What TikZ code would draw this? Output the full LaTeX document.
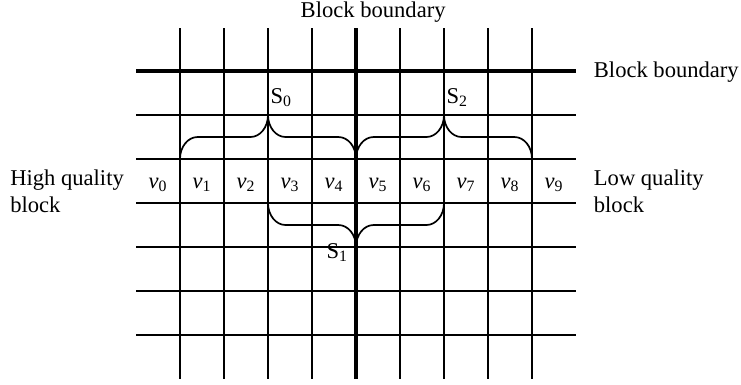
\documentclass[tikz,border=0pt]{standalone}
\usepackage{fontspec}
\setmainfont{Liberation Serif}
\usetikzlibrary{positioning}

\begin{document}
\begin{tikzpicture}[
        font=\fontsize{14.6pt}{17pt}\selectfont,
        gridline/.style={line width=1.1pt},
        boundline/.style={line width=2.3pt},
        brace/.style={line width=1.1pt},
        lbl/.style={inner sep=0pt}
    ]
        \useasboundingbox (-3.091,1.614) rectangle (13.75,-7.136);

        % grid
        \foreach \i in {1,...,9} {
            \draw[gridline] (\i,0.977) -- (\i,-7);
        }
        \foreach \j in {1,...,6} {
            \draw[gridline] (0,-\j) -- (10,-\j);
        }
        \draw[boundline] (0,0) -- (10,0);
        \draw[boundline] (5,0.977) -- (5,-7);

        % pixels
        \foreach \i in {0,...,9} {
            \node[lbl, anchor=base] (v\i) at (\i+0.5,-2.66) {\textit{v}\textsubscript{\i}};
        }

        % braces
        \draw[brace] (1,-2) .. controls (1,-1.72) and (1.18,-1.5) .. (1.4,-1.5) -- (2.6,-1.5)
            .. controls (2.82,-1.5) and (3,-1.28) .. (3,-1)
            .. controls (3,-1.28) and (3.18,-1.5) .. (3.4,-1.5) -- (4.6,-1.5)
            .. controls (4.82,-1.5) and (5,-1.72) .. (5,-2);
        \draw[brace] (5,-2) .. controls (5,-1.72) and (5.18,-1.5) .. (5.4,-1.5) -- (6.6,-1.5)
            .. controls (6.82,-1.5) and (7,-1.28) .. (7,-1)
            .. controls (7,-1.28) and (7.18,-1.5) .. (7.4,-1.5) -- (8.6,-1.5)
            .. controls (8.82,-1.5) and (9,-1.72) .. (9,-2);
        \draw[brace] (3,-3) .. controls (3,-3.28) and (3.18,-3.5) .. (3.4,-3.5) -- (4.6,-3.5)
            .. controls (4.82,-3.5) and (5,-3.72) .. (5,-4)
            .. controls (5,-3.72) and (5.18,-3.5) .. (5.4,-3.5) -- (6.6,-3.5)
            .. controls (6.82,-3.5) and (7,-3.28) .. (7,-3);

        \node[lbl, anchor=base west] (s0) at (3.05,-0.734) {S\textsubscript{0}};
        \node[lbl, anchor=base west] (s2) at (7.05,-0.734) {S\textsubscript{2}};
        \node[lbl, anchor=base east] (s1) at (4.82,-4.257) {S\textsubscript{1}};

        % labels
        \node[lbl, anchor=base] (topb) at (5.39,1.22) {Block boundary};
        \node[lbl, anchor=base west] (rightb) at (10.4,-0.152) {Block boundary};
        \node[lbl, anchor=west, align=left] (hq) at (-2.864,-2.73) {High quality\\block};
        \node[lbl, anchor=west, align=left] (lq) at (10.4,-2.73) {Low quality\\block};
    \end{tikzpicture}
\end{document}
